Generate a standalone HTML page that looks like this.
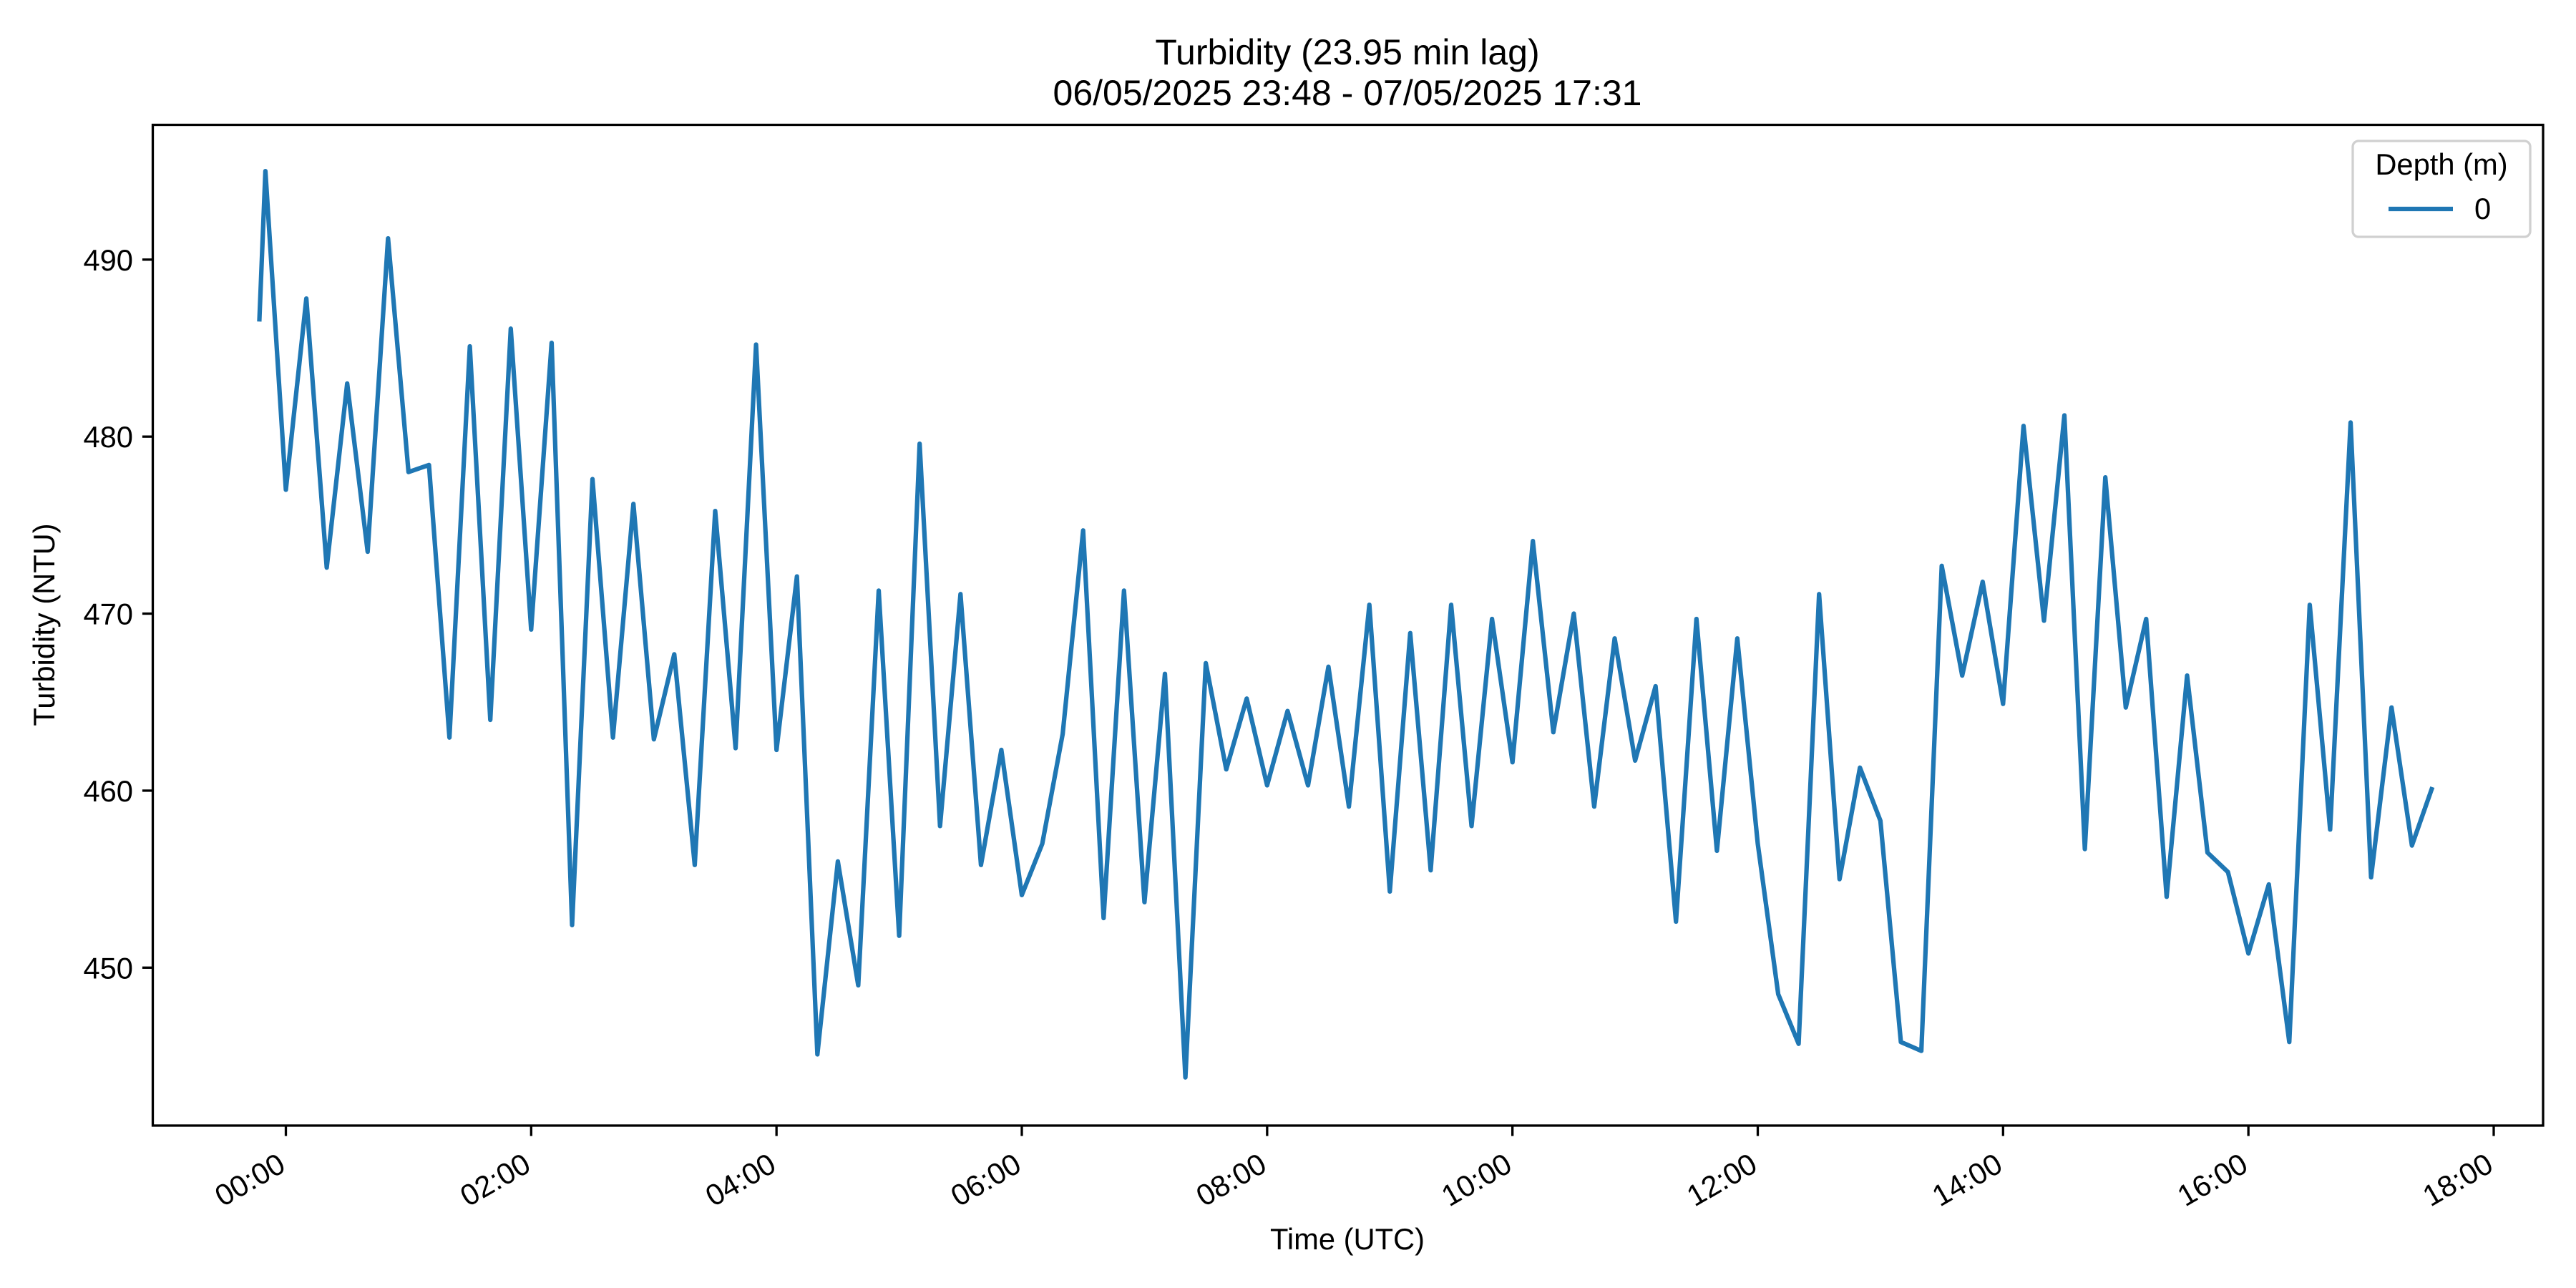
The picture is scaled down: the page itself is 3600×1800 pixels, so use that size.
<!DOCTYPE html>
<html><head><meta charset="utf-8"><style>
html,body{margin:0;padding:0;background:#fff;}
svg{display:block;font-family:"Liberation Sans","DejaVu Sans",sans-serif;}
</style></head><body>
<svg id="chart" width="3600" height="1800" viewBox="0 0 3600 1800" xmlns="http://www.w3.org/2000/svg">
<rect x="0" y="0" width="3600" height="1800" fill="#fff"/>
<text x="1883" y="90" font-size="50" text-anchor="middle">Turbidity (23.95 min lag)</text>
<text x="1883" y="147" font-size="50" text-anchor="middle">06/05/2025 23:48 - 07/05/2025 17:31</text>
<g id="grid"></g>
<g id="series"></g>
<rect x="213.5" y="174.5" width="3340.5" height="1398.5" fill="none" stroke="#000" stroke-width="3.3"/>
<text x="0" y="0" font-size="41.7" text-anchor="middle" transform="translate(76,873) rotate(-90)">Turbidity (NTU)</text>
<text x="1883" y="1746" font-size="41.7" text-anchor="middle">Time (UTC)</text>
<g>
<rect x="3288" y="197" width="248" height="134" rx="8" fill="#fff" stroke="#d0d0d0" stroke-width="3.3"/>
<text x="3412" y="244" font-size="41.7" text-anchor="middle">Depth (m)</text>
<line x1="3338" y1="292" x2="3428" y2="292" stroke="#1f77b4" stroke-width="6.25"/>
<text x="3458" y="306" font-size="41.7">0</text>
</g>
</svg>
<script>
// minutes since 07/05/2025 00:00 UTC
const times = [-13,-10,0,10,20,30,40,50,60,70,80,90,100,110,120,130,140,150,160,170,180,190,200,210,220,230,240,250,260,270,280,290,300,310,320,330,340,350,360,370,380,390,400,410,420,430,440,450,460,470,480,490,500,510,520,530,540,550,560,570,580,590,600,610,620,630,640,650,660,670,680,690,700,710,720,730,740,750,760,770,780,790,800,810,820,830,840,850,860,870,880,890,900,910,920,930,940,950,960,970,980,990,1000,1010,1020,1030,1040,1050];
const turbidity = [486.5,495,477,487.8,472.6,483,473.5,491.2,478,478.4,
463,485.1,464,486.1,469.1,485.3,452.4,477.6,463,476.2,
462.9,467.7,455.8,475.8,462.4,485.2,462.3,472.1,445.1,456,
449,471.3,451.8,479.6,458,471.1,455.8,462.3,454.1,457,
463.2,474.7,452.8,471.3,453.7,466.6,443.8,467.2,461.2,465.2,
460.3,464.5,460.3,467,459.1,470.5,454.3,468.9,455.5,470.5,
458,469.7,461.6,474.1,463.3,470,459.1,468.6,461.7,465.9,
452.6,469.7,456.6,468.6,457,448.5,445.7,471.1,455,461.3,
458.3,445.8,445.3,472.7,466.5,471.8,464.9,480.6,469.6,481.2,
456.7,477.7,464.7,469.7,454,466.5,456.5,455.4,450.8,454.7,
445.8,470.5,457.8,480.8,455.1,464.7,456.9,460.2];
const xTickMinutes = [0,120,240,360,480,600,720,840,960,1080];
const xTickLabels = ["00:00","02:00","04:00","06:00","08:00","10:00","12:00","14:00","16:00","18:00"];
const yTickValues = [450,460,470,480,490];
const yTickLabels = ["450","460","470","480","490"];

const NS = "http://www.w3.org/2000/svg";
const PLOT_BOTTOM = 1573;
function xScale(m){ return 399.5 + (m - 0) * (3485 - 399.5) / 1080; }
function yScale(v){ return 362.8 + (490 - v) * (1352.3 - 362.8) / 40; }

const g = document.getElementById('grid');
xTickMinutes.forEach((m, i) => {
  const x = xScale(m);
  const t = document.createElementNS(NS, 'line');
  
  
  t.setAttribute('x1', x); t.setAttribute('x2', x);
  t.setAttribute('y1', PLOT_BOTTOM); t.setAttribute('y2', PLOT_BOTTOM + 14.6);
  t.setAttribute('stroke', '#000'); t.setAttribute('stroke-width', 3.3);
  g.appendChild(t);
  const lx = x + 2, ly = PLOT_BOTTOM + 62;
  const l = document.createElementNS(NS, 'text');
  
  
  l.setAttribute('x', lx); l.setAttribute('y', ly);
  l.setAttribute('font-size', 41.7);
  l.setAttribute('text-anchor', 'end');
  l.setAttribute('transform', 'rotate(-30 ' + lx + ' ' + ly + ')');
  l.textContent = xTickLabels[i];
  g.appendChild(l);
});
yTickValues.forEach((v, i) => {
  const y = yScale(v);
  const t = document.createElementNS(NS, 'line');
  
  
  t.setAttribute('x1', 213.5 - 14.6); t.setAttribute('x2', 213.5);
  t.setAttribute('y1', y); t.setAttribute('y2', y);
  t.setAttribute('stroke', '#000'); t.setAttribute('stroke-width', 3.3);
  g.appendChild(t);
  const l = document.createElementNS(NS, 'text');
  
  
  l.setAttribute('x', 186); l.setAttribute('y', y + 15);
  l.setAttribute('font-size', 41.7);
  l.setAttribute('text-anchor', 'end');
  l.textContent = yTickLabels[i];
  g.appendChild(l);
});

const s = document.getElementById('series');
const pts = times.map((m, i) => xScale(m).toFixed(1) + ',' + yScale(turbidity[i]).toFixed(1)).join(' ');
const pl = document.createElementNS(NS, 'polyline');


pl.setAttribute('points', pts);
pl.setAttribute('fill', 'none');
pl.setAttribute('stroke', '#1f77b4');
pl.setAttribute('stroke-width', 6.25);
pl.setAttribute('stroke-linejoin', 'round');
s.appendChild(pl);
</script>
</body></html>
